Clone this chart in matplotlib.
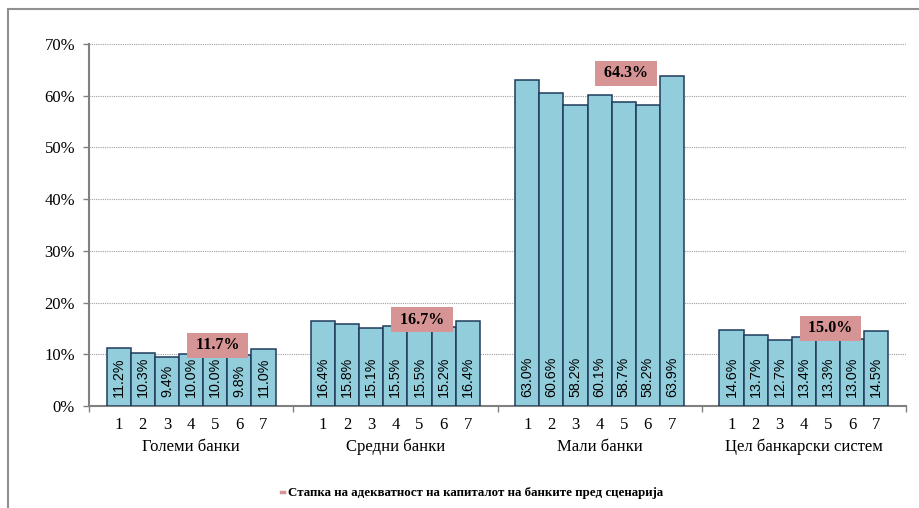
import numpy as np
import matplotlib
matplotlib.use('Agg')
import matplotlib.pyplot as plt
from matplotlib.lines import Line2D
from matplotlib.patches import Rectangle

# capital adequacy ratio by bank group, 7 scenarios each
groups = ['Големи банки', 'Средни банки', 'Мали банки', 'Цел банкарски систем']
scenarios = ['1', '2', '3', '4', '5', '6', '7']
golemi = [11.2, 10.3, 9.4, 10.0, 10.0, 9.8, 11.0]
sredni = [16.4, 15.8, 15.1, 15.5, 15.5, 15.2, 16.4]
mali = [63.0, 60.6, 58.2, 60.1, 58.7, 58.2, 63.9]
sistem = [14.6, 13.7, 12.7, 13.4, 13.3, 13.0, 14.5]
# ratio before the scenarios
pred = [11.7, 16.7, 64.3, 15.0]
legend_label = 'Стапка на адекватност на капиталот на банките пред сценарија'

values = [golemi, sredni, mali, sistem]
bar_color = '#92CDDC'
edge_color = '#1F3B5C'
box_color = '#D69494'
serif = 'Liberation Serif'

fig = plt.figure(figsize=(9.19, 5.08), dpi=100)
W, H = 919, 508
ax = fig.add_axes([89/W, (H-406)/H, (906-89)/W, (406-44)/H])

G = 8.46          # width of one group slot, in bar widths
off = (G - 7) / 2

for g, vals in enumerate(values):
    x = g*G + off + np.arange(7) + 0.5
    ax.bar(x, vals, width=1.0, color=bar_color, edgecolor=edge_color,
           linewidth=1.1, zorder=3)
    for xi, v in zip(x, vals):
        ax.annotate(f'{v:.1f}%', (xi, 0), xytext=(0, 6.5), textcoords='offset points',
                    rotation=90, ha='center', va='bottom', fontsize=10.3,
                    family='Liberation Sans', zorder=4)
    # scenario numbers under the bars
    for xi, s in zip(x, scenarios):
        ax.annotate(s, (xi, 0), xytext=(0, -8), textcoords='offset points',
                    ha='center', va='top', fontsize=12, family=serif,
                    annotation_clip=False)
    ax.annotate(groups[g], (g*G + G/2, 0), xytext=(0, -23.5), textcoords='offset points',
                ha='center', va='top', fontsize=12, family=serif,
                annotation_clip=False)
    # ratio before the scenarios, labelled over bar 5
    ax.text(g*G + off + 4.6, pred[g], f' {pred[g]:.1f}% ', ha='center', va='center',
            fontsize=11.5, fontweight='bold', family=serif, zorder=5,
            bbox=dict(boxstyle='square,pad=0.3', facecolor=box_color, edgecolor='none'))

ax.set_xlim(0, 4*G)
ax.set_ylim(0, 70)
ax.set_yticks(np.arange(0, 71, 10))
ax.set_yticklabels([f'{t}%' for t in range(0, 71, 10)], family=serif, fontsize=12)
ax.set_xticks([g*G for g in range(5)])
ax.set_xticklabels([])
ax.tick_params(axis='y', length=4, width=1, color='#808080', pad=6)
ax.tick_params(axis='x', length=4, width=1, color='#808080')
ax.grid(axis='y', linestyle=(0, (1, 1)), color='#A0A0A0', linewidth=0.8, zorder=0)
for s in ['top', 'right']:
    ax.spines[s].set_visible(False)
for s in ['left', 'bottom']:
    ax.spines[s].set_color('#808080')
    ax.spines[s].set_linewidth(1.5)

handle = Line2D([], [], color=box_color, linewidth=2.5)
fig.legend([handle], [legend_label], loc='center', bbox_to_anchor=(472/W, 1 - 493/H),
           frameon=False, handlelength=0.3, handletextpad=0.3,
           prop={'family': serif, 'weight': 'bold', 'size': 9.3})

# chart area border
fig.patches.append(Rectangle((8/W, -0.1), 1.2, 1 - 9/H + 0.1, transform=fig.transFigure,
                             fill=False, edgecolor='#909090', linewidth=1.5))

fig.savefig('out.png', dpi=100)
